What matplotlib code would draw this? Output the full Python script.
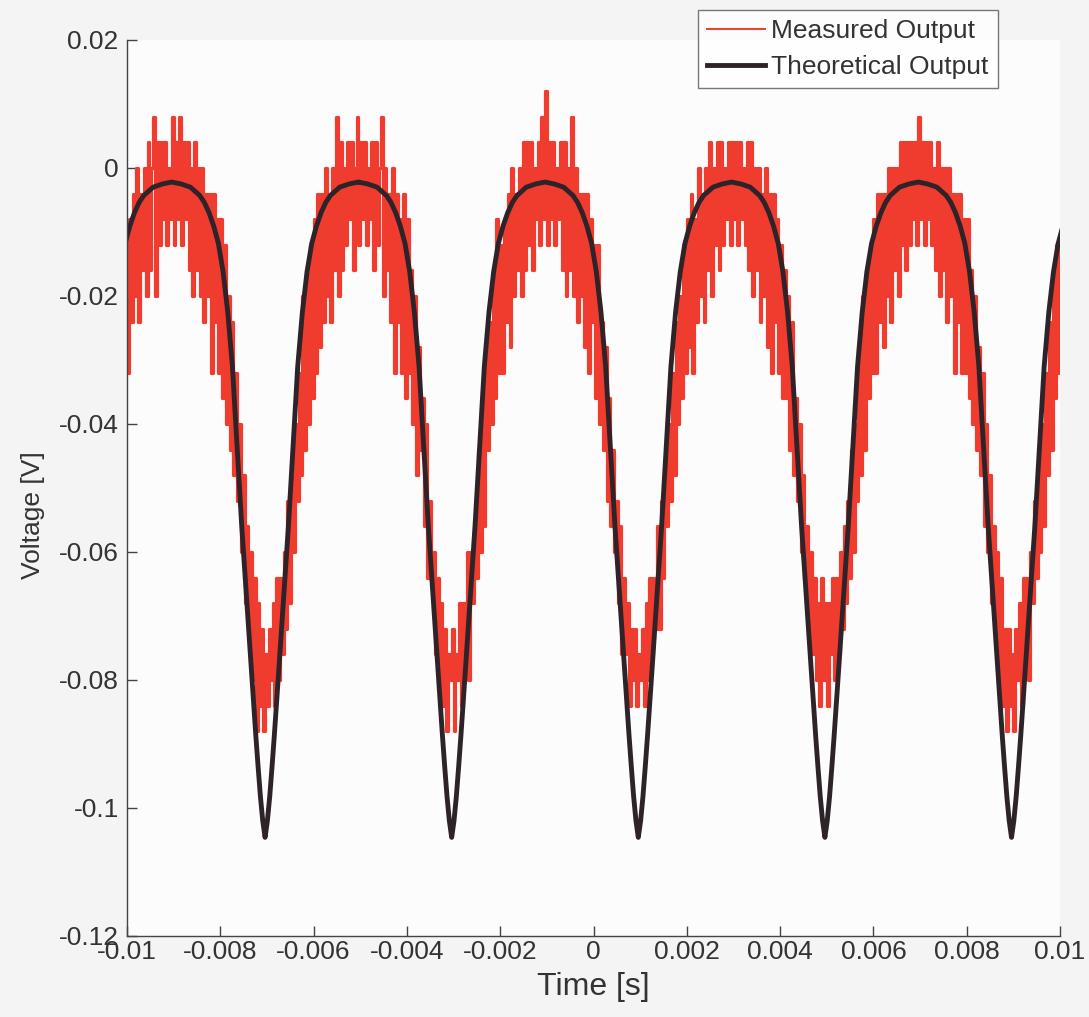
import numpy as np
import matplotlib
matplotlib.use("Agg")
from matplotlib import pyplot as plt

#=======================================
# Data
#=======================================
# ADC step of the scope (V per count)
lsb = 0.004

# measured output in ADC counts, one list per 4 ms cycle,
# samples every 40 us starting at t = -0.01 s
cycle1 = [-8, -2, -6, -1, -5, 0, -6, -1, -4, 0, -5, 1, -4, 0, 2, -5, 1, -3, 1, -2, 1, -3, 0, -2, 2,
          -3, 1, -2, 2, -3, 1, -2, 1, -4, 0, -5, 1, -4, 0, -5, 0, -6, -1, -5, -1, -8, -1, -6, -2, -8,
          -2, -9, -3, -10, -5, -11, -6, -12, -8, -13, -10, -15, -12, -17, -14, -18, -15, -20, -16, -22,
          -17, -21, -18, -22, -19, -21, -18, -20, -17, -21, -16, -20, -16, -19, -15, -18, -13, -17, -12,
          -15, -10, -13, -8, -12, -5, -11, -4, -10, -3, -9]
cycle2 = [-2, -8, -1, -7, -1, -6, 0, -5, -1, -6, 0, -4, 2, -5, 1, -4, 0, -3, 1, -2, 1, -4, 0, 2, -3,
          1, -2, 1, -3, 0, -2, 1, -4, 1, -3, 0, 2, -5, 0, -4, -1, -6, 0, -8, -1, -6, -2, -8, -1, -9,
          -2, -8, -4, -10, -5, -12, -7, -11, -9, -14, -10, -16, -13, -16, -15, -19, -16, -20, -17, -21,
          -18, -22, -19, -20, -18, -22, -19, -20, -17, -21, -17, -19, -15, -20, -15, -17, -14, -16, -11,
          -15, -9, -14, -7, -11, -6, -10, -4, -9, -2, -8]
cycle3 = [-3, -8, -2, -6, -1, -7, 0, -5, -1, -4, 0, -5, 1, -4, 1, -3, 1, -4, 0, -2, 1, -3, 2, -2, 3,
          -3, 1, -2, 1, -3, 0, -2, 1, -4, 1, -5, 0, -4, 2, -5, 0, -6, -1, -5, -1, -7, -1, -8, -2, -6,
          -3, -9, -3, -10, -6, -11, -7, -13, -9, -14, -11, -15, -13, -17, -14, -19, -16, -19, -17, -21,
          -18, -20, -18, -21, -19, -20, -18, -21, -17, -20, -16, -19, -16, -18, -14, -18, -13, -16, -12,
          -14, -10, -13, -8, -12, -6, -10, -5, -9, -3, -8]
cycle4 = [-2, -7, -1, -8, -2, -6, 0, -5, -1, -6, 0, -4, 1, -5, 0, -3, 1, -4, 1, -3, 0, -2, 1, -3, 1,
          -2, 1, -3, 1, -2, 0, -3, 1, -4, 1, -5, 0, -4, 0, -6, -1, -5, 0, -7, -1, -8, -1, -6, -2, -8,
          -3, -9, -4, -9, -5, -11, -6, -12, -9, -13, -10, -15, -12, -16, -14, -18, -15, -19, -16, -20,
          -17, -21, -16, -20, -17, -21, -17, -19, -16, -20, -16, -19, -15, -18, -14, -17, -13, -16, -11,
          -15, -10, -13, -7, -12, -5, -11, -4, -9, -3, -8]
cycle5 = [-2, -8, -1, -6, -1, -7, -1, -5, 0, -6, 0, -4, 0, -5, 1, -3, 1, -4, 1, -3, 1, -2, 1, -3, 2,
          -2, 1, -3, 1, -2, 1, -3, 0, -4, 1, -5, 0, -4, 0, -6, 0, -5, -1, -8, -1, -6, -1, -8, -2, -8,
          -2, -9, -4, -10, -5, -11, -7, -12, -8, -14, -10, -15, -12, -17, -14, -18, -15, -20, -16, -21,
          -18, -22, -18, -21, -19, -22, -18, -20, -17, -21, -16, -19, -16, -20, -15, -17, -13, -16, -12,
          -15, -10, -14, -8, -12, -6, -11, -4, -9, -3, -8]
last_count = -4

# theoretical output: time from each peak (ms) and voltage (V), peak -> trough
theory_dt_ms = [0.0, 0.2, 0.4, 0.6, 0.7, 0.8, 0.9, 1.0, 1.1, 1.2,
                1.3, 1.4, 1.5, 1.6, 1.7, 1.8, 1.85, 1.9, 1.95, 2.0]
theory_v = [-0.0022, -0.0025, -0.0030, -0.0043, -0.0054, -0.0070, -0.0091, -0.0118, -0.0162, -0.0225,
            -0.0310, -0.0435, -0.0560, -0.0668, -0.0778, -0.0885, -0.0935, -0.0982, -0.1020, -0.1046]
peak_times = [-0.01304, -0.00904, -0.00504, -0.00104, 0.00296, 0.00696]
period = 0.004

xticks = [-0.01, -0.008, -0.006, -0.004, -0.002, 0, 0.002, 0.004, 0.006, 0.008, 0.01]
xticklabels = ['-0.01', '-0.008', '-0.006', '-0.004', '-0.002', '0',
               '0.002', '0.004', '0.006', '0.008', '0.01']
yticks = [-0.12, -0.1, -0.08, -0.06, -0.04, -0.02, 0, 0.02]
yticklabels = ['-0.12', '-0.1', '-0.08', '-0.06', '-0.04', '-0.02', '0', '0.02']

#=======================================
# Build series
#=======================================
counts = np.concatenate([cycle1, cycle2, cycle3, cycle4, cycle5, [last_count]])
t_meas = np.linspace(-0.01, 0.01, len(counts))
v_meas = counts * lsb

half_dt = np.array(theory_dt_ms) * 1e-3
half_v = np.array(theory_v)
cyc_dt = np.concatenate([half_dt, period - half_dt[::-1][1:]])
cyc_v = np.concatenate([half_v, half_v[::-1][1:]])
t_th = np.concatenate([p + cyc_dt for p in peak_times])
v_th = np.tile(cyc_v, len(peak_times))

#=======================================
# Plot
#=======================================
plt.rcParams['font.family'] = ['Liberation Sans', 'DejaVu Sans']
txt = '#333333'

fig = plt.figure(figsize=(10.89, 10.17), dpi=100, facecolor='#f4f4f4')
ax = fig.add_axes([0.1166, 0.0797, 0.9734 - 0.1166, 0.9607 - 0.0797])
ax.set_facecolor('#fcfcfc')

ax.plot(t_meas, v_meas, color='#f03c2e', lw=2.3, drawstyle='steps-post',
        label='Measured Output')
ax.plot(t_th, v_th, color='#2e2329', lw=3.5, label='Theoretical Output')

ax.set_xlim(-0.01, 0.01)
ax.set_ylim(-0.12, 0.02)
ax.set_xticks(xticks)
ax.set_xticklabels(xticklabels)
ax.set_yticks(yticks)
ax.set_yticklabels(yticklabels)

for s in ['top', 'right']:
    ax.spines[s].set_visible(False)
for s in ['left', 'bottom']:
    ax.spines[s].set_color('#444444')
    ax.spines[s].set_linewidth(1.0)
ax.tick_params(direction='in', length=7, width=1.0, color='#444444',
               labelsize=19, labelcolor=txt)
ax.tick_params(axis='x', pad=3)
ax.tick_params(axis='y', pad=6)

ax.set_xlabel('Time [s]', fontsize=23, color=txt, labelpad=6)
ax.set_ylabel('Voltage [V]', fontsize=19, color=txt)
ax.yaxis.set_label_coords(-0.088, 0.47)

leg = ax.legend(loc='upper right', bbox_to_anchor=(998 / 1089, 1 - 10 / 1017),
                bbox_transform=fig.transFigure, fontsize=19, frameon=True,
                fancybox=False, borderaxespad=0, handlelength=2.2,
                handletextpad=0.25, borderpad=0.35, labelspacing=0.45)
leg.get_frame().set_edgecolor('#555555')
leg.get_frame().set_linewidth(1.0)
leg.get_frame().set_facecolor('white')
leg.get_lines()[0].set_linewidth(1.4)
for t in leg.get_texts():
    t.set_color(txt)

fig.savefig('out.png', dpi=100, facecolor=fig.get_facecolor())
